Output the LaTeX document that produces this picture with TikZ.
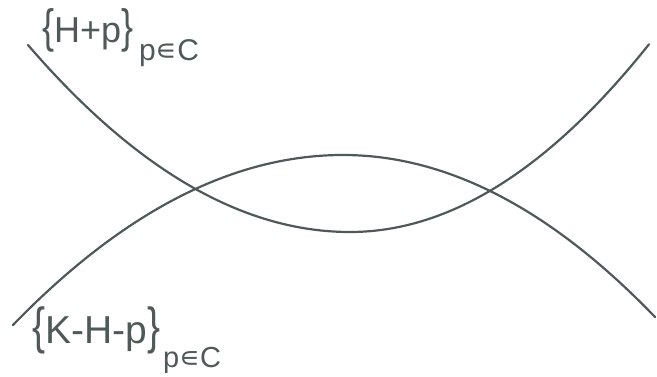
\documentclass[tikz,border=0pt]{standalone}
\usepackage{graphicx}
\usepackage{fontspec}
\setmainfont{Liberation Sans}
\newfontfamily\djv{DejaVu Sans}
\definecolor{ink}{HTML}{505959}
\newcommand{\lbr}{\scalebox{1}[1.3]{\{}}
\newcommand{\rbr}{\scalebox{1}[1.3]{\}}}
\begin{document}
\begin{tikzpicture}[x=1pt,y=-1pt,
  curve/.style={draw=ink,line width=2.2pt,line cap=round},
  lbl/.style={inner sep=0pt,anchor=base west,text=ink}]
\useasboundingbox (0,0) rectangle (657,377);
% U-shaped curve {H+p}
\draw[curve] plot[domain=28:350,samples=80,smooth] (\x,{232-18.036*((\x-350)/100)^2})
  -- plot[domain=350:649,samples=80,smooth] (\x,{232-21.0*((\x-350)/100)^2});
% arch curve {K-H-p}
\draw[curve] plot[domain=13:343,samples=80,smooth] (\x,{155+15.61*((\x-343)/100)^2})
  -- plot[domain=343:655,samples=80,smooth] (\x,{155+16.64*((\x-343)/100)^2});
% labels
\node[lbl,font=\fontsize{36}{40}\selectfont] (topmain) at (42,43) {\lbr H+p\rbr};
\node[lbl,font=\fontsize{30}{34}\selectfont] (topsub) at (139,61) {p{\djv ∊}C};
\node[lbl,font=\fontsize{39}{44}\selectfont] (botmain) at (32,343) {\lbr K-H-p\rbr};
\node[lbl,font=\fontsize{29}{34}\selectfont] (botsub) at (163,367) {p{\djv ∊}C};
\end{tikzpicture}
\end{document}
